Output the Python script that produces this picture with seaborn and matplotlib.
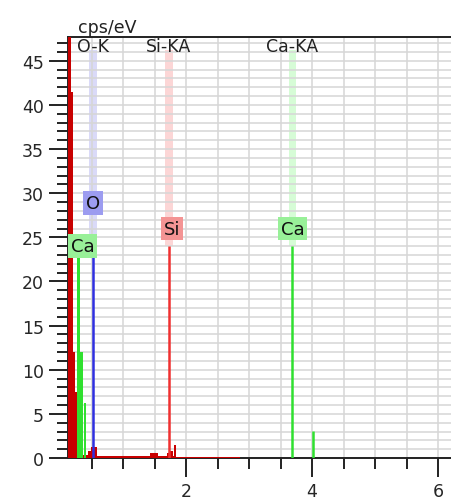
import numpy as np
import matplotlib
matplotlib.use("Agg")
import matplotlib.pyplot as plt
import seaborn as sns

# red spectrum (bin edges in keV, counts in cps/eV)
red_edges = [0.127, 0.17, 0.21, 0.243, 0.275, 0.445, 0.49, 0.59, 1.43, 1.55,
             1.70, 1.746, 1.794, 1.81, 1.84, 2.86]
red_counts = [60, 41.5, 12, 7.5, 0.3, 0.8, 1.3, 0.2, 0.6, 0.25,
              0.6, 0.8, 0.25, 1.5, 0.15]

# Ca-L peaks (green bins)
cal_edges = [0.275, 0.325, 0.37, 0.385, 0.415]
cal_counts = [22.8, 12, 0.0, 6.2]

# identified lines
line_names = ["O-K", "Si-KA", "Ca-KA"]
line_energy = [0.52, 1.73, 3.69]
line_height = [23.0, 24.0, 24.0]
line_color = ["#3030e0", "#f03030", "#30e030"]
band_color = ["#dadaf8", "#fcd6d6", "#d6fcd6"]

# small Ca-KB line
cakb_energy = 4.01
cakb_height = 3.1

# marker boxes: text, x, y, face colour
box_text = ["O", "Ca", "Si", "Ca"]
box_x = [0.52, 0.355, 1.775, 3.69]
box_y = [28.9, 24.0, 26.0, 26.0]
box_face = ["#9c9cf0", "#98f098", "#f49494", "#98f098"]

sns.set_style("white")
plt.rcParams["font.family"] = ["DejaVu Sans"]

fig = plt.figure(figsize=(4.51, 5.02), dpi=100)
ax = fig.add_axes([68 / 451, 43 / 502, 1 - 68 / 451, 421 / 502])

ax.set_xlim(0.127, 6.206)
ax.set_ylim(0, 47.7)

ax.set_xticks([2, 4, 6])
ax.set_xticks(np.arange(0.5, 6.3, 0.5), minor=True)
ax.set_yticks(np.arange(0, 46, 5))
ax.set_yticks(np.arange(0, 48, 1), minor=True)
ax.grid(which="both", color="#d6d6d6", lw=1.1, zorder=0.6)
ax.set_axisbelow(True)

ax.tick_params(which="major", direction="out", length=14, width=1.4,
               labelsize=12.5, pad=3.5, color="#222222", bottom=True, left=True)
ax.tick_params(which="minor", direction="out", length=8, width=1.4,
               color="#222222", bottom=True, left=True)

for s in ["left", "bottom", "top"]:
    ax.spines[s].set_color("#222222")
    ax.spines[s].set_linewidth(1.4)
ax.spines["right"].set_visible(False)

# bands behind the identified lines
for e, h, bc in zip(line_energy, line_height, band_color):
    ax.fill_between([e - 0.06, e + 0.06], h, 46.2, color=bc, zorder=0.5, lw=0)

# spectrum
ax.stairs(red_counts, red_edges, fill=True, color="#c80000", zorder=3)
ax.stairs(cal_counts, cal_edges, fill=True, color="#30e030", zorder=3.2)

ax.vlines(line_energy, 0, line_height, colors=line_color, linewidth=1.8,
          zorder=3.5)
ax.vlines([cakb_energy], 0, [cakb_height], colors="#30e030", linewidth=1.8,
          zorder=3.5)

for name, e in zip(line_names, line_energy):
    ax.text(e, 46.7, name, ha="center", va="center", fontsize=12.5,
            color="#222222", zorder=4)

for t, x, y, fc in zip(box_text, box_x, box_y, box_face):
    ax.text(x, y, t, ha="center", va="center", fontsize=13, color="#111111",
            zorder=5, bbox=dict(boxstyle="square,pad=0.15", fc=fc, ec="none"))

fig.text(107 / 451, 1 - 28 / 502, "cps/eV", ha="center", va="center",
         fontsize=12.5, color="#222222")

fig.savefig("out.png", dpi=100)
